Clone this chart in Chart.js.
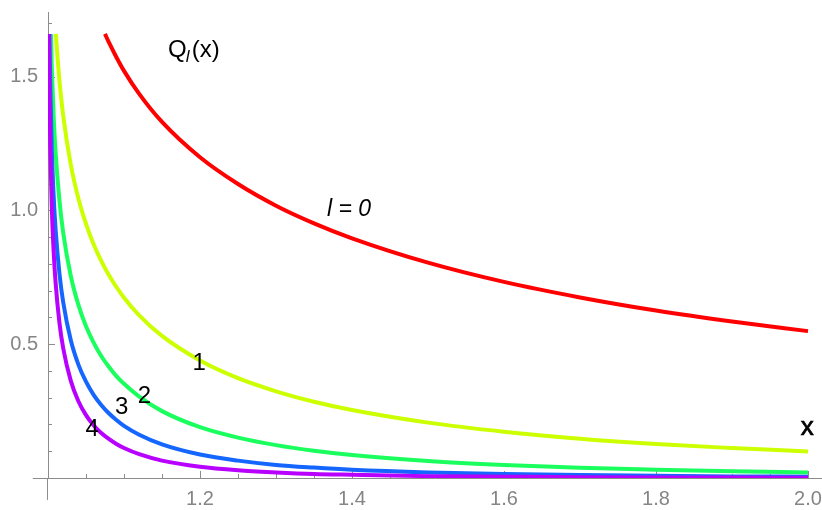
<!DOCTYPE html>
<html>
<head>
<meta charset="utf-8">
<script src="https://cdn.jsdelivr.net/npm/chart.js@4.4.1/dist/chart.umd.min.js"></script>
<style>
  body { margin: 0; background: #fff; }
  #wrap { width: 822px; height: 510px; }
</style>
</head>
<body>
<div id="wrap"><canvas id="myChart" width="822" height="510"></canvas></div>
<script>
// Q_l(x), values (curves cut at the top of the plot range, ~1.66)
var q0x = [1.075, 1.08, 1.09, 1.1, 1.12, 1.15, 1.2, 1.25, 1.3, 1.35, 1.4, 1.5, 1.6, 1.7, 1.8, 1.9, 2.0];
var q0y = [1.660, 1.629, 1.573, 1.522, 1.436, 1.331, 1.199, 1.099, 1.018, 0.952, 0.896, 0.805, 0.733, 0.675, 0.626, 0.585, 0.549];

var q1x = [1.0104, 1.0125, 1.015, 1.02, 1.03, 1.04, 1.05, 1.06, 1.07, 1.08, 1.09, 1.1, 1.12, 1.15, 1.2, 1.25, 1.3, 1.35, 1.4, 1.5, 1.6, 1.7, 1.8, 1.9, 2.0];
var q1y = [1.660, 1.573, 1.487, 1.354, 1.171, 1.045, 0.950, 0.874, 0.812, 0.759, 0.714, 0.674, 0.608, 0.531, 0.439, 0.373, 0.324, 0.285, 0.254, 0.207, 0.173, 0.147, 0.127, 0.112, 0.099];

var q2x = [1.00383, 1.005, 1.0075, 1.01, 1.015, 1.02, 1.03, 1.04, 1.05, 1.06, 1.07, 1.08, 1.09, 1.1, 1.12, 1.15, 1.2, 1.25, 1.3, 1.35, 1.4, 1.5, 1.6, 1.7, 1.8, 1.9, 2.0];
var q2y = [1.660, 1.535, 1.347, 1.217, 1.039, 0.917, 0.755, 0.647, 0.567, 0.506, 0.456, 0.416, 0.381, 0.352, 0.304, 0.250, 0.190, 0.151, 0.123, 0.102, 0.086, 0.064, 0.049, 0.038, 0.031, 0.025, 0.021];

var q3x = [1.00197, 1.003, 1.005, 1.0075, 1.01, 1.015, 1.02, 1.03, 1.04, 1.05, 1.06, 1.07, 1.08, 1.09, 1.1, 1.12, 1.15, 1.2, 1.25, 1.3, 1.35, 1.4, 1.5, 1.6, 1.7, 1.8, 1.9, 2.0];
var q3y = [1.660, 1.462, 1.229, 1.051, 0.929, 0.766, 0.657, 0.515, 0.424, 0.360, 0.311, 0.273, 0.242, 0.217, 0.195, 0.162, 0.126, 0.088, 0.065, 0.049, 0.039, 0.031, 0.021, 0.015, 0.011, 0.008, 0.006, 0.005];

var q4x = [1.00122, 1.0015, 1.002, 1.003, 1.005, 1.0075, 1.01, 1.015, 1.02, 1.03, 1.04, 1.05, 1.06, 1.07, 1.08, 1.09, 1.1, 1.12, 1.15, 1.2, 1.25, 1.3, 1.35, 1.4, 1.5, 1.6, 1.7, 1.8, 1.9, 2.0];
var q4y = [1.660, 1.553, 1.419, 1.234, 1.011, 0.843, 0.730, 0.581, 0.485, 0.363, 0.287, 0.235, 0.197, 0.168, 0.146, 0.127, 0.112, 0.089, 0.065, 0.042, 0.029, 0.021, 0.015, 0.012, 0.007, 0.005, 0.003, 0.002, 0.002, 0.001];

var xTicks = [1.2, 1.4, 1.6, 1.8, 2.0];
var yTicks = [0.5, 1.0, 1.5];

var colors = ['#ff0000', '#ccff00', '#1aff5e', '#1466ff', '#b800ff'];

// curve labels, placed in data units
var notes = [
  {text: '1', x: 1.199, y: 0.428},
  {text: '2', x: 1.127, y: 0.305},
  {text: '3', x: 1.097, y: 0.265},
  {text: '4', x: 1.058, y: 0.181}
];

function pts(xs, ys) {
  return xs.map(function (v, i) { return {x: v, y: ys[i]}; });
}

function curve(xs, ys, l) {
  return {
    label: 'l=' + l,
    data: pts(xs, ys),
    borderColor: colors[l],
    borderWidth: 4,
    pointRadius: 0,
    fill: false,
    cubicInterpolationMode: 'monotone',
    order: 4 - l
  };
}

var axisColor = '#8c8c8c';
var labelFont = '"Liberation Sans", Arial, sans-serif';

var mathAxes = {
  id: 'mathAxes',
  beforeDatasetsDraw: function (chart) {
    var ctx = chart.ctx, xs = chart.scales.x, ys = chart.scales.y;
    var x0 = xs.getPixelForValue(1.0), y0 = ys.getPixelForValue(0);
    ctx.save();
    ctx.strokeStyle = axisColor;
    ctx.lineWidth = 1;
    ctx.beginPath();
    // axis stubs past the origin
    ctx.moveTo(xs.getPixelForValue(0.98), y0 + 0.5);
    ctx.lineTo(x0, y0 + 0.5);
    ctx.moveTo(x0 - 0.5, y0);
    ctx.lineTo(x0 - 0.5, ys.getPixelForValue(-0.082));
    // inward ticks on x
    for (var i = 1; i <= 20; i++) {
      var v = 1 + i * 0.05;
      var px = Math.round(xs.getPixelForValue(v)) + 0.5;
      var len = (i % 4 === 0) ? 7 : 4;
      ctx.moveTo(px, y0);
      ctx.lineTo(px, y0 - len);
    }
    // inward ticks on y
    for (var j = 1; j <= 17; j++) {
      var py = Math.round(ys.getPixelForValue(j * 0.1)) + 0.5;
      var l2 = (j % 5 === 0) ? 7 : 4;
      ctx.moveTo(x0, py);
      ctx.lineTo(x0 + l2, py);
    }
    ctx.stroke();
    ctx.restore();
  },
  afterDatasetsDraw: function (chart) {
    var ctx = chart.ctx, xs = chart.scales.x, ys = chart.scales.y;
    ctx.save();
    ctx.fillStyle = '#000';
    ctx.textAlign = 'center';
    ctx.textBaseline = 'middle';
    ctx.font = '24px ' + labelFont;
    notes.forEach(function (n) {
      ctx.fillText(n.text, xs.getPixelForValue(n.x), ys.getPixelForValue(n.y));
    });
    // l=0
    ctx.font = 'italic 23px ' + labelFont;
    ctx.fillText('l = 0', xs.getPixelForValue(1.396), ys.getPixelForValue(1.004));
    // axis name
    ctx.strokeStyle = '#000';
    ctx.lineWidth = 0.7;
    ctx.font = '26px "Liberation Sans Narrow", ' + labelFont;
    var ax = xs.getPixelForValue(1.999), ay = ys.getPixelForValue(0.186);
    ctx.fillText('x', ax, ay);
    ctx.strokeText('x', ax, ay);
    // Q_l(x)
    ctx.textAlign = 'left';
    ctx.textBaseline = 'alphabetic';
    var qx = xs.getPixelForValue(1.158), qy = ys.getPixelForValue(1.574);
    ctx.font = '24px ' + labelFont;
    ctx.fillText('Q', qx, qy);
    var w = ctx.measureText('Q').width;
    ctx.font = 'italic 17px ' + labelFont;
    ctx.fillText('l', qx + w - 1, qy + 5);
    ctx.font = '24px ' + labelFont;
    ctx.fillText('(x)', qx + w + 5, qy);
    ctx.restore();
  }
};

function noPad(s) {
  s.paddingLeft = 0; s.paddingRight = 0; s.paddingTop = 0; s.paddingBottom = 0;
}

var ctx = document.getElementById('myChart').getContext('2d');
var myChart = new Chart(ctx, {
  type: 'line',
  data: {
    datasets: [
      curve(q0x, q0y, 0),
      curve(q1x, q1y, 1),
      curve(q2x, q2y, 2),
      curve(q3x, q3y, 3),
      curve(q4x, q4y, 4)
    ]
  },
  options: {
    responsive: false,
    animation: false,
    layout: {padding: {top: 12, right: 0, left: 0, bottom: 0}},
    plugins: {legend: {display: false}, tooltip: {enabled: false}},
    scales: {
      x: {
        type: 'linear',
        min: 1.0,
        max: 2.0184,
        afterFit: function (s) { s.height = 32; noPad(s); },
        afterBuildTicks: function (s) { s.ticks = xTicks.map(function (v) { return {value: v}; }); },
        grid: {display: false, drawTicks: false},
        border: {display: true, color: axisColor, width: 1},
        ticks: {
          padding: 9,
          color: '#858585',
          font: {family: labelFont, size: 20},
          maxRotation: 0,
          autoSkip: false,
          callback: function (v) { return v.toFixed(1); }
        }
      },
      y: {
        type: 'linear',
        min: 0,
        max: 1.742,
        afterFit: function (s) { s.width = 48; noPad(s); },
        afterBuildTicks: function (s) { s.ticks = yTicks.map(function (v) { return {value: v}; }); },
        grid: {display: false, drawTicks: false},
        border: {display: true, color: axisColor, width: 1},
        ticks: {
          padding: 10,
          color: '#858585',
          font: {family: labelFont, size: 20},
          autoSkip: false,
          callback: function (v) { return v.toFixed(1); }
        }
      }
    }
  },
  plugins: [mathAxes]
});
</script>
</body>
</html>
